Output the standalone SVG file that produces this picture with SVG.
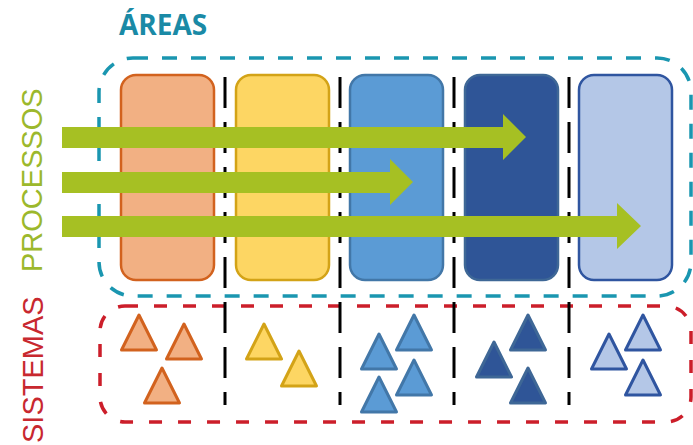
<svg xmlns="http://www.w3.org/2000/svg" xmlns:xlink="http://www.w3.org/1999/xlink" width="693" height="445" viewBox="0 0 693 445">
<style>
.box{stroke-width:2.5}
.div{stroke:#000;stroke-width:3;stroke-dasharray:31 14;fill:none}
.arrow{fill:#a6c023}
.tri{stroke-width:3;stroke-linejoin:round}
.o{fill:#f2b083;stroke:#d2621e}
.y{fill:#fdd663;stroke:#d3a317}
.b{fill:#5b9bd5;stroke:#4277a8}
.d{fill:#2f5597;stroke:#3e6796}
.l{fill:#b4c7e7;stroke:#2f55a0}
.label{font-family:"Liberation Sans",Arial,sans-serif;font-size:29px}
</style>
<defs>
<path id="tri" d="M0,0 L17.5,35 L-17.5,35 Z"/>
</defs>
<rect width="693" height="445" fill="#fff"/>
<g id="areas-title"><text x="119" y="35" font-family="'Open Sans','Liberation Sans',sans-serif" font-weight="bold" font-size="28" fill="#1a8aa6">ÁREAS</text></g>
<g id="processos-label"><text class="label" transform="translate(42,272) rotate(-90)" fill="#9cb82c">PROCESSOS</text></g>
<g id="sistemas-label"><text class="label" transform="translate(43,443) rotate(-90)" fill="#c8282f">SISTEMAS</text></g>
<g id="areas-frame"><rect x="99" y="58" width="592" height="238" rx="34" fill="none" stroke="#1a96b0" stroke-width="3.5" stroke-dasharray="15 14"/></g>
<g id="sistemas-frame"><rect x="100" y="306" width="591" height="116" rx="25" fill="none" stroke="#cc1e2a" stroke-width="3.5" stroke-dasharray="13 16"/></g>
<g id="area1"><rect class="box o" x="121" y="75" width="93" height="205" rx="15"/></g>
<g id="area2"><rect class="box y" x="236" y="75" width="93" height="205" rx="15"/></g>
<g id="area3"><rect class="box b" x="350" y="75" width="93" height="205" rx="15"/></g>
<g id="area4"><rect class="box d" x="465" y="75" width="93" height="205" rx="15"/></g>
<g id="area5"><rect class="box l" x="579" y="75" width="93" height="205" rx="15"/></g>
<g id="dividers">
<line class="div" x1="225" y1="77" x2="225" y2="405"/>
<line class="div" x1="340" y1="77" x2="340" y2="405"/>
<line class="div" x1="454" y1="77" x2="454" y2="405"/>
<line class="div" x1="569" y1="77" x2="569" y2="405"/>
</g>
<g id="connectors">
<polygon class="arrow" points="62,127 503,127 503,114 526,137 503,160 503,148 62,148"/>
<polygon class="arrow" points="62,172 390,172 390,159 413,182 390,205 390,193 62,193"/>
<polygon class="arrow" points="62,216 617,216 617,203 641,226 617,249 617,237 62,237"/>
</g>
<g id="sistemas1">
<use xlink:href="#tri" class="tri o" x="139" y="315"/>
<use xlink:href="#tri" class="tri o" x="184" y="324"/>
<use xlink:href="#tri" class="tri o" x="162" y="368"/>
</g>
<g id="sistemas2">
<use xlink:href="#tri" class="tri y" x="264" y="324"/>
<use xlink:href="#tri" class="tri y" x="299" y="351"/>
</g>
<g id="sistemas3">
<use xlink:href="#tri" class="tri b" x="379" y="334"/>
<use xlink:href="#tri" class="tri b" x="414" y="315"/>
<use xlink:href="#tri" class="tri b" x="414" y="360"/>
<use xlink:href="#tri" class="tri b" x="379" y="377"/>
</g>
<g id="sistemas4">
<use xlink:href="#tri" class="tri d" x="528" y="315"/>
<use xlink:href="#tri" class="tri d" x="494" y="342"/>
<use xlink:href="#tri" class="tri d" x="528" y="368"/>
</g>
<g id="sistemas5">
<use xlink:href="#tri" class="tri l" x="609" y="334"/>
<use xlink:href="#tri" class="tri l" x="643" y="315"/>
<use xlink:href="#tri" class="tri l" x="643" y="360"/>
</g>
</svg>
